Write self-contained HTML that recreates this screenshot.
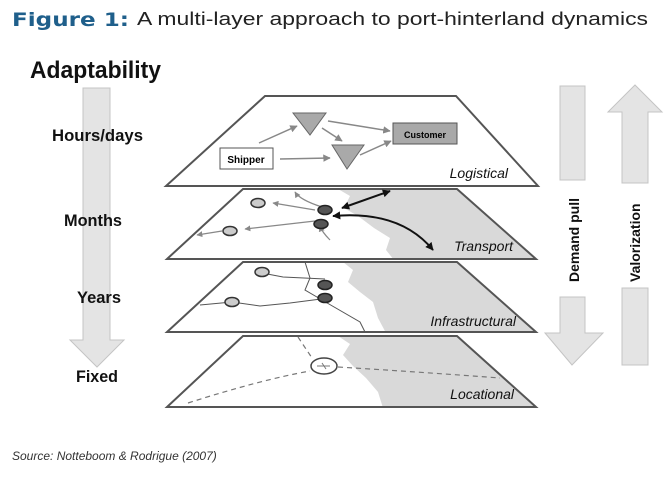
<!DOCTYPE html>
<html><head><style>
body{margin:0;background:#fff;}
svg{display:block;font-family:"Liberation Sans",Arial,sans-serif;}
</style></head><body>
<svg width="672" height="483" viewBox="0 0 672 483">
<defs>
<clipPath id="c2"><polygon points="243,189 457,189 536,259 167,259"/></clipPath>
<clipPath id="c3"><polygon points="243,262 457,262 536,332 167,332"/></clipPath>
<clipPath id="c4"><polygon points="243,336 457,336 536,407 167,407"/></clipPath>
<marker id="ag" viewBox="0 0 10 10" refX="9" refY="5" markerWidth="5" markerHeight="5" orient="auto-start-reverse"><path d="M0,0L10,5L0,10z" fill="#888"/></marker>
<marker id="ab" viewBox="0 0 10 10" refX="9" refY="5" markerWidth="4" markerHeight="4" orient="auto-start-reverse"><path d="M0,0L10,5L0,10z" fill="#111"/></marker>
</defs>
<text x="12" y="26" font-size="19" font-weight="bold" fill="#1f5f8b" font-family="'DejaVu Sans',sans-serif" textLength="117" lengthAdjust="spacingAndGlyphs">Figure 1:</text>
<text x="137" y="25" font-size="18" fill="#222" textLength="511" lengthAdjust="spacingAndGlyphs">A multi-layer approach to port-hinterland dynamics</text>
<text x="30" y="78" font-size="24" font-weight="bold" fill="#111" textLength="131" lengthAdjust="spacingAndGlyphs">Adaptability</text>
<!-- left arrow -->
<polygon points="83,88 110,88 110,340 124,340 97,367 70,340 83,340" fill="#e4e4e4" stroke="#c4c4c4"/>
<g font-weight="bold" font-size="17" fill="#111">
<text x="52" y="141" textLength="91" lengthAdjust="spacingAndGlyphs">Hours/days</text>
<text x="64" y="226" textLength="58" lengthAdjust="spacingAndGlyphs">Months</text>
<text x="77" y="303" textLength="44" lengthAdjust="spacingAndGlyphs">Years</text>
<text x="76" y="382" textLength="42" lengthAdjust="spacingAndGlyphs">Fixed</text>
</g>
<!-- right arrows -->
<rect x="560" y="86" width="25" height="94" fill="#e4e4e4" stroke="#c4c4c4"/>
<polygon points="560,297 585,297 585,333 603,333 572,365 545,333 560,333" fill="#e4e4e4" stroke="#c4c4c4"/>
<polygon points="635,85 662,112 648,112 648,183 622,183 622,112 608,112" fill="#e4e4e4" stroke="#c4c4c4"/>
<rect x="622" y="288" width="26" height="77" fill="#e4e4e4" stroke="#c4c4c4"/>
<text transform="translate(579,282) rotate(-90)" font-size="14" font-weight="bold" fill="#111">Demand pull</text>
<text transform="translate(640,282) rotate(-90)" font-size="14" font-weight="bold" fill="#111">Valorization</text>
<!-- layer 1 -->
<polygon points="265,96 456,96 538,186 166,186" fill="#fff" stroke="#555" stroke-width="2"/>
<polygon points="293,113 326,113 310,135" fill="#a9a9a9" stroke="#666"/>
<polygon points="332,145 364,145 347,169" fill="#a9a9a9" stroke="#666"/>
<rect x="393" y="123" width="64" height="21" fill="#a9a9a9" stroke="#555"/>
<text x="425" y="138" font-size="9" font-weight="bold" text-anchor="middle">Customer</text>
<rect x="220" y="148" width="53" height="21" fill="#fff" stroke="#555"/>
<text x="246" y="163" font-size="10" font-weight="bold" text-anchor="middle">Shipper</text>
<g stroke="#888" stroke-width="1.5" fill="none" marker-end="url(#ag)">
<line x1="259" y1="143" x2="297" y2="126"/>
<line x1="328" y1="121" x2="390" y2="131"/>
<line x1="322" y1="128" x2="342" y2="141"/>
<line x1="280" y1="159" x2="330" y2="158"/>
<line x1="360" y1="155" x2="391" y2="141"/>
</g>
<text x="508" y="178" font-size="14" font-style="italic" text-anchor="end" fill="#111">Logistical</text>
<!-- land shapes -->
<g fill="#d9d9d9">
<path clip-path="url(#c2)" d="M338,189 L350,196 L344,208 L358,216 L374,228 L390,238 L386,250 L394,260 L540,260 L540,189Z"/>
<path clip-path="url(#c3)" d="M343,262 L353,270 L348,282 L360,292 L373,302 L378,318 L386,333 L540,333 L540,262Z"/>
<path clip-path="url(#c4)" d="M338,336 L350,344 L343,355 L353,366 L366,378 L378,392 L383,408 L540,408 L540,336Z"/>
</g>
<!-- layer 2 -->
<polygon points="243,189 457,189 536,259 167,259" fill="none" stroke="#555" stroke-width="2"/>
<g stroke="#888" stroke-width="1.2" fill="none" marker-end="url(#ag)">
<line x1="315" y1="210" x2="273" y2="203"/>
<line x1="315" y1="221" x2="245" y2="229"/>
<line x1="222" y1="231" x2="197" y2="235"/>
<path d="M322,207 Q300,200 295,192"/>
<path d="M330,240 Q322,232 320,226"/>
</g>
<ellipse cx="258" cy="203" rx="7" ry="4.5" fill="#ccc" stroke="#333" stroke-width="1.5"/>
<ellipse cx="230" cy="231" rx="7" ry="4.5" fill="#ccc" stroke="#333" stroke-width="1.5"/>
<ellipse cx="325" cy="210" rx="7" ry="4.5" fill="#555" stroke="#222" stroke-width="1.5"/>
<ellipse cx="321" cy="224" rx="7" ry="4.5" fill="#555" stroke="#222" stroke-width="1.5"/>
<line x1="342" y1="208" x2="390" y2="191" stroke="#111" stroke-width="2" marker-start="url(#ab)" marker-end="url(#ab)"/>
<path d="M333,216 Q400,210 433,250" stroke="#111" stroke-width="2" fill="none" marker-start="url(#ab)" marker-end="url(#ab)"/>
<text x="513" y="251" font-size="14" font-style="italic" text-anchor="end" fill="#111">Transport</text>
<!-- layer 3 -->
<polygon points="243,262 457,262 536,332 167,332" fill="none" stroke="#555" stroke-width="2"/>
<g stroke="#555" stroke-width="1" fill="none">
<path d="M262,273 L283,277 L325,279"/>
<path d="M200,305 L232,302 L260,306 L290,303 L321,299"/>
<path d="M305,262 L310,278 L305,290 L322,300 L360,322 L365,332"/>
</g>
<ellipse cx="262" cy="272" rx="7" ry="4.5" fill="#ccc" stroke="#333" stroke-width="1.5"/>
<ellipse cx="232" cy="302" rx="7" ry="4.5" fill="#ccc" stroke="#333" stroke-width="1.5"/>
<ellipse cx="325" cy="285" rx="7" ry="4.5" fill="#555" stroke="#222" stroke-width="1.5"/>
<ellipse cx="325" cy="298" rx="7" ry="4.5" fill="#555" stroke="#222" stroke-width="1.5"/>
<text x="516" y="326" font-size="14" font-style="italic" text-anchor="end" fill="#111">Infrastructural</text>
<!-- layer 4 -->
<polygon points="243,336 457,336 536,407 167,407" fill="none" stroke="#555" stroke-width="2"/>
<g stroke="#777" stroke-width="1.2" fill="none" stroke-dasharray="5,4">
<path d="M298,337 L312,358"/>
<path d="M188,403 Q260,380 310,371"/>
<path d="M338,367 Q420,372 500,378"/>
</g>
<ellipse cx="324" cy="366" rx="13" ry="8" fill="#fff" stroke="#444" stroke-width="1.5"/>
<path d="M317,366 L330,366 M322,363 L326,369" stroke="#777" stroke-width="1"/>
<text x="514" y="399" font-size="14" font-style="italic" text-anchor="end" fill="#111">Locational</text>
<text x="12" y="460" font-size="12" font-style="italic" fill="#333">Source: Notteboom &amp; Rodrigue (2007)</text>
</svg>
</body></html>
